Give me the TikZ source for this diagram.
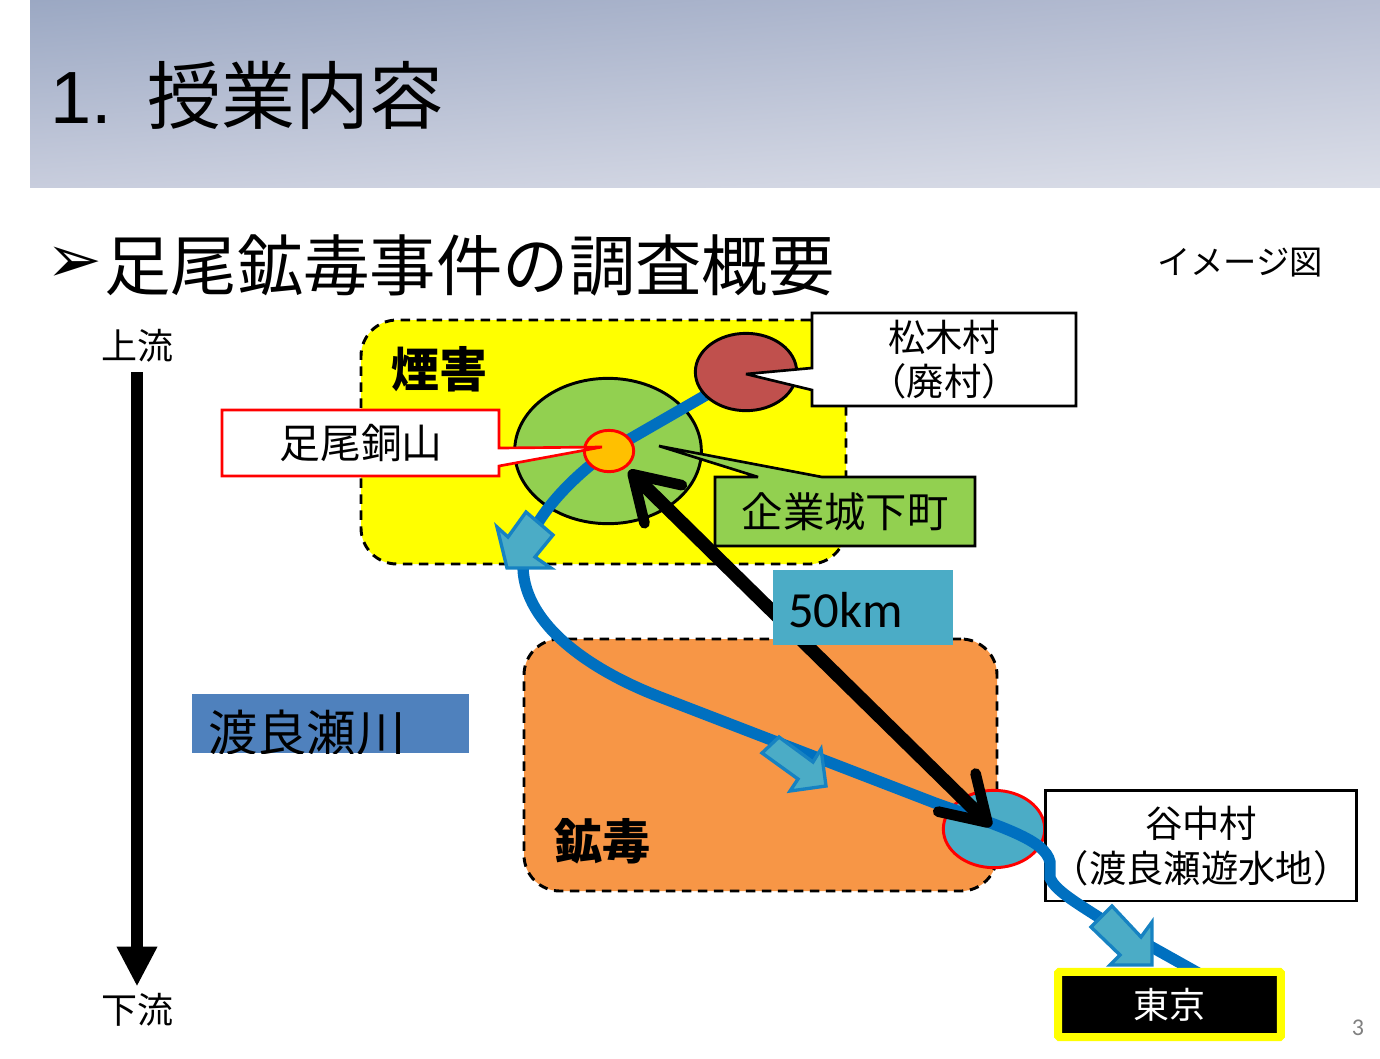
\documentclass[tikz,border=0pt]{standalone}
\usepackage{fontspec}
\setmainfont{Noto Sans CJK JP}
\newfontfamily\arialfont{Liberation Sans}
\newfontfamily\calibrifont{Carlito}
\newfontfamily\symbolfont{DejaVu Sans}
\usepackage{xcolor}
\definecolor{SlideTL}{RGB}{155,168,195}
\definecolor{SlideTR}{RGB}{182,189,210}
\definecolor{SlideBL}{RGB}{200,205,221}
\definecolor{SlideBR}{RGB}{219,222,232}
\definecolor{SmokeYellow}{RGB}{255,255,0}
\definecolor{MineOrange}{RGB}{247,150,70}
\definecolor{TownGreen}{RGB}{146,208,80}
\definecolor{VillageRed}{RGB}{192,80,77}
\definecolor{MineGold}{RGB}{255,192,0}
\definecolor{PondTeal}{RGB}{75,172,198}
\definecolor{RiverBlue}{RGB}{0,112,192}
\definecolor{LabelBlue}{RGB}{79,129,189}
\usetikzlibrary{arrows.meta}
\usetikzlibrary{shapes.geometric}
\usetikzlibrary{shadings}

\begin{document}
\begin{tikzpicture}[
    x = 0.75pt
    , y = -0.75pt
    , txt/.style = {
      , inner sep = 0pt
      , align = center
    }
    , region/.style = {
      , rectangle
      , rounded corners = 27pt
      , draw = black
      , line width = 2.2pt
      , dash pattern = on 7pt off 5pt
    }
    , spot/.style = {
      , ellipse
      , inner sep = 0pt
      , draw = black
      , line width = 2.2pt
    }
    , wedge/.style = {
      , draw = black
      , fill = white
      , line width = 2pt
      , miter limit = 3
    }
    , river/.style = {
      , draw = RiverBlue
      , line width = 8.5pt
    }
    , flow/.style = {
      , draw = RiverBlue!70!PondTeal
      , fill = PondTeal
      , line width = 2.5pt
      , miter limit = 20
    }
    , distarrow/.style = {
      , draw = black
      , line width = 10pt
      , {Straight Barb[length=32pt,width=40pt,line width=8pt,round]}-{Straight Barb[length=32pt,width=40pt,line width=8pt,round]}
    }
    ]
    \useasboundingbox (0,0) rectangle (1380,1058);

    % header
    \shade[upper left=SlideTL, upper right=SlideTR, lower left=SlideBL, lower right=SlideBR] (30,0) rectangle (1380,187);
    \node[txt, anchor=west, font=\fontsize{55.5pt}{60pt}\selectfont] (title) at (50,95) {{\arialfont 1.}\hspace{27pt}授業内容};
    \node[txt, anchor=west, font=\fontsize{50pt}{54pt}\selectfont\symbolfont] (bullet) at (46,265) {➢};
    \node[txt, anchor=west, font=\fontsize{49.8pt}{54pt}\selectfont] (subtitle) at (104,265) {足尾鉱毒事件の調査概要};
    \node[txt, font=\fontsize{25pt}{28pt}\selectfont] (image) at (1240,263) {イメージ図};

    % upstream to downstream
    \node[txt, font=\fontsize{27pt}{30pt}\selectfont] (upstream) at (137,346) {上流};
    \node[txt, font=\fontsize{27pt}{30pt}\selectfont] (downstream) at (137,1010) {下流};
    \draw[line width=9pt, shorten <=7pt, shorten >=5pt, -{Triangle[length=30pt,width=28.5pt]}] (upstream) -- (downstream);

    % clipped label
    \fill[LabelBlue] (192,694) rectangle (469,753);
    \begin{scope}
      \clip (192,694) rectangle (469,753);
      \node[txt, anchor=west, font=\fontsize{37pt}{40pt}\selectfont] (watarase) at (208,733) {渡良瀬川};
    \end{scope}

    % areas
    \node[region, fill=SmokeYellow, minimum width=363.75pt, minimum height=183pt] (smoke) at (603.5,442) {};
    \node[txt, font=\bfseries\fontsize{36pt}{40pt}\selectfont] (smokelabel) at (439,369) {煙害};
    \node[spot, fill=TownGreen, minimum width=140pt, minimum height=109pt] (town) at (608,451) {};
    \node[region, fill=MineOrange, minimum width=354.75pt, minimum height=189pt] (poison) at (760.5,765) {};
    \node[txt, font=\bfseries\fontsize{36pt}{40pt}\selectfont] (poisonlabel) at (602,841) {鉱毒};

    \node[spot, fill=PondTeal, draw=red, minimum width=76pt, minimum height=58pt] (yanaka) at (994,829) {};
    \node[rectangle, draw=black, fill=white, line width=2pt, minimum width=233pt, minimum height=83pt] (yanakabox) at (1201,845.5) {};
    \node[txt, font=\fontsize{28pt}{33.75pt}\selectfont] (yanakalabel) at (1201,846) {谷中村\\（渡良瀬遊水地）};

    % river
    \coordinate (matsukipos) at (746,372);
    \coordinate (ashiopos) at (609,451);
    \coordinate (bendA) at (523,568);
    \coordinate (bendB) at (660,697);
    \coordinate (bendC) at (935,803);
    \coordinate (bendD) at (1050,862);
    \coordinate (bendE) at (1050,878);
    \coordinate (bendF) at (1100,918);
    \coordinate (bendG) at (1225,988);
    \draw[river] (matsukipos) -- (ashiopos)
      .. controls (565,482) and (522,530) .. (bendA)
      .. controls (525,625) and (590,670) .. (bendB)
      -- (bendC)
      .. controls (1005,828) and (1045,840) .. (bendD)
      -- (bendE)
      .. controls (1055,890) and (1075,902) .. (bendF)
      -- (bendG);
    \node[spot, fill=VillageRed, minimum width=76pt, minimum height=58pt] (matsuki) at (matsukipos) {};
    \node[spot, fill=MineGold, draw=red, minimum width=37pt, minimum height=31pt] (ashio) at (ashiopos) {};

    % flow direction
    \draw[flow] (497,527) -- (508,537) -- (526,512) -- (553,535) -- (535,557) -- (551,568) -- (507,568) -- cycle;
    \draw[flow] (762,753) -- (779,737) -- (813,762) -- (821,749) -- (826,786) -- (790,791) -- (798,779) -- cycle;
    \draw[flow] (1091,927) -- (1112,906) -- (1141,937) -- (1152,922) -- (1152,965) -- (1110,965) -- (1120,955) -- cycle;

    % distance
    \draw[distarrow, shorten <=3pt, shorten >=3pt] (ashio) -- (yanaka.center);
    \fill[PondTeal] (773,570) rectangle (953,645);
    \node[txt, anchor=west, font=\calibrifont\fontsize{38pt}{40pt}\selectfont] (distance) at (788,610) {50km};

    % callouts
    \draw[wedge] (812,313) -- (1076,313) -- (1076,406) -- (812,406) -- (812,390) -- (746,374) -- (812,368) -- cycle;
    \node[txt, font=\fontsize{28pt}{33pt}\selectfont] (matsukilabel) at (944,360) {松木村\\（廃村）};
    \draw[wedge, fill=TownGreen] (715,477) -- (758,477) -- (659,446) -- (822,477) -- (975,477) -- (975,546) -- (715,546) -- cycle;
    \node[txt, font=\fontsize{31pt}{35pt}\selectfont] (townlabel) at (845,512) {企業城下町};
    \draw[wedge, draw=red] (222,410) -- (499,410) -- (499,448) -- (602,447) -- (499,466) -- (499,476) -- (222,476) -- cycle;
    \node[txt, font=\fontsize{30.6pt}{35pt}\selectfont] (ashiolabel) at (361,443) {足尾銅山};

    % tokyo
    \node[rectangle, rounded corners=1pt, fill=black, draw=SmokeYellow, line width=6pt, minimum width=167pt, minimum height=49pt, text=white, font=\fontsize{27pt}{30pt}\selectfont, inner sep=0pt] (tokyo) at (1169.5,1004.5) {東京};

    \node[txt, text=black!50, font=\calibrifont\fontsize{18pt}{20pt}\selectfont] (page) at (1358,1028) {3};
  \end{tikzpicture}
\end{document}
